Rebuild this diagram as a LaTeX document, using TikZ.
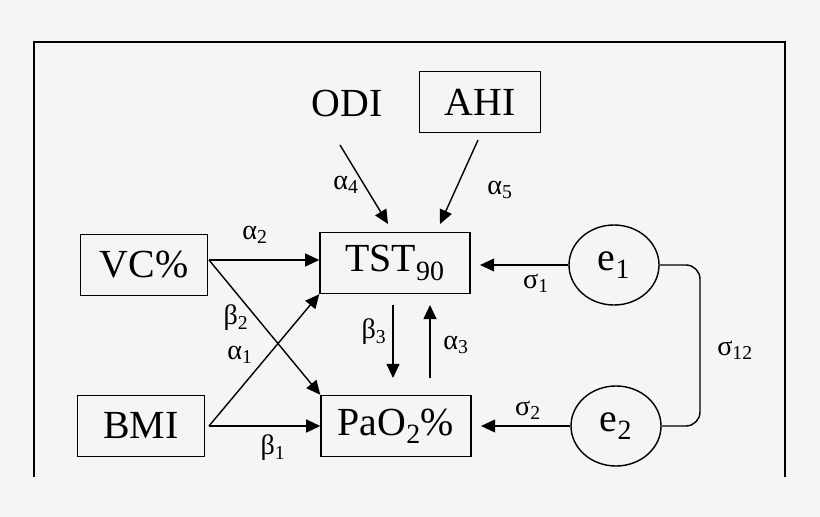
\documentclass[tikz,border=0pt]{standalone}
\usepackage{fontspec}
\setmainfont{Liberation Serif}
\usetikzlibrary{arrows.meta,positioning,shapes.geometric}
\begin{document}
\begin{tikzpicture}
            [x=0.03cm, y=-0.03cm,
             var/.style = {draw, line width=1.2pt, minimum width=3.8cm, minimum height=1.83cm, font=\fontsize{34}{36}\selectfont},
             err/.style = {draw, line width=1.2pt, ellipse, minimum width=2.7cm, minimum height=2.4cm, font=\fontsize{34}{36}\selectfont},
             lab/.style = {font=\fontsize{24}{26}\selectfont},
             link/.style = {line width=1.2pt, -{Triangle[length=12pt,width=11pt]}}]
            \fill[black!4] (0,0) rectangle (820,517);
            \draw[line width=1.2pt] (34,477) -- (34,42) -- (785,42) -- (785,477);
            \node (odi) at (347,104) {\fontsize{34}{36}\selectfont ODI};
            \node[var, minimum width=3.63cm] (ahi) at (480,102) {AHI};
            \node[var] (vc) at (144,265) {VC\%};
            \node[var, minimum width=4.5cm] (tst) at (395,263) {TST\textsubscript{90}};
            \node[var] (bmi) at (141,426) {BMI};
            \node[var, minimum width=4.5cm] (pao) at (396,426) {PaO\textsubscript{2}\%};
            \node[err] (e1) at (614,265) {e\textsubscript{1}};
            \node[err] (e2) at (616,426) {e\textsubscript{2}};
            \coordinate (vcout) at (209,260);
            \coordinate (bmiout) at (209,426);
            \draw[link] (vcout) -- (tst.west |- vcout);
            \draw[link] (vcout) -- (pao.north west);
            \draw[link] (bmiout) -- (tst.south west);
            \draw[link] (bmiout) -- (pao.west |- bmiout);
            \draw[link] (340,145) -- (388,224);
            \draw[link] (478,140) -- (440,224);
            \draw[link] (393,305) -- (393,378);
            \draw[link] (430,378) -- (430,305);
            \draw[link] (e1.west) -- ([xshift=8]tst.east |- e1.west);
            \draw[link] (e2.west) -- ([xshift=8]pao.east |- e2.west);
            \draw[line width=1.2pt, rounded corners=12] (e1.east) -- (700,265) -- (700,426) -- (e2.east);
            \node[lab] at (255,235) {α\textsubscript{2}};
            \node[lab] at (236,318) {β\textsubscript{2}};
            \node[lab] at (240,355) {α\textsubscript{1}};
            \node[lab] at (273,448) {β\textsubscript{1}};
            \node[lab] at (346,185) {α\textsubscript{4}};
            \node[lab] at (500,190) {α\textsubscript{5}};
            \node[lab] at (374,332) {β\textsubscript{3}};
            \node[lab] at (456,345) {α\textsubscript{3}};
            \node[lab] at (536,283) {σ\textsubscript{1}};
            \node[lab] at (528,410) {σ\textsubscript{2}};
            \node[lab] at (735,350) {σ\textsubscript{12}};
        \end{tikzpicture}
\end{document}
